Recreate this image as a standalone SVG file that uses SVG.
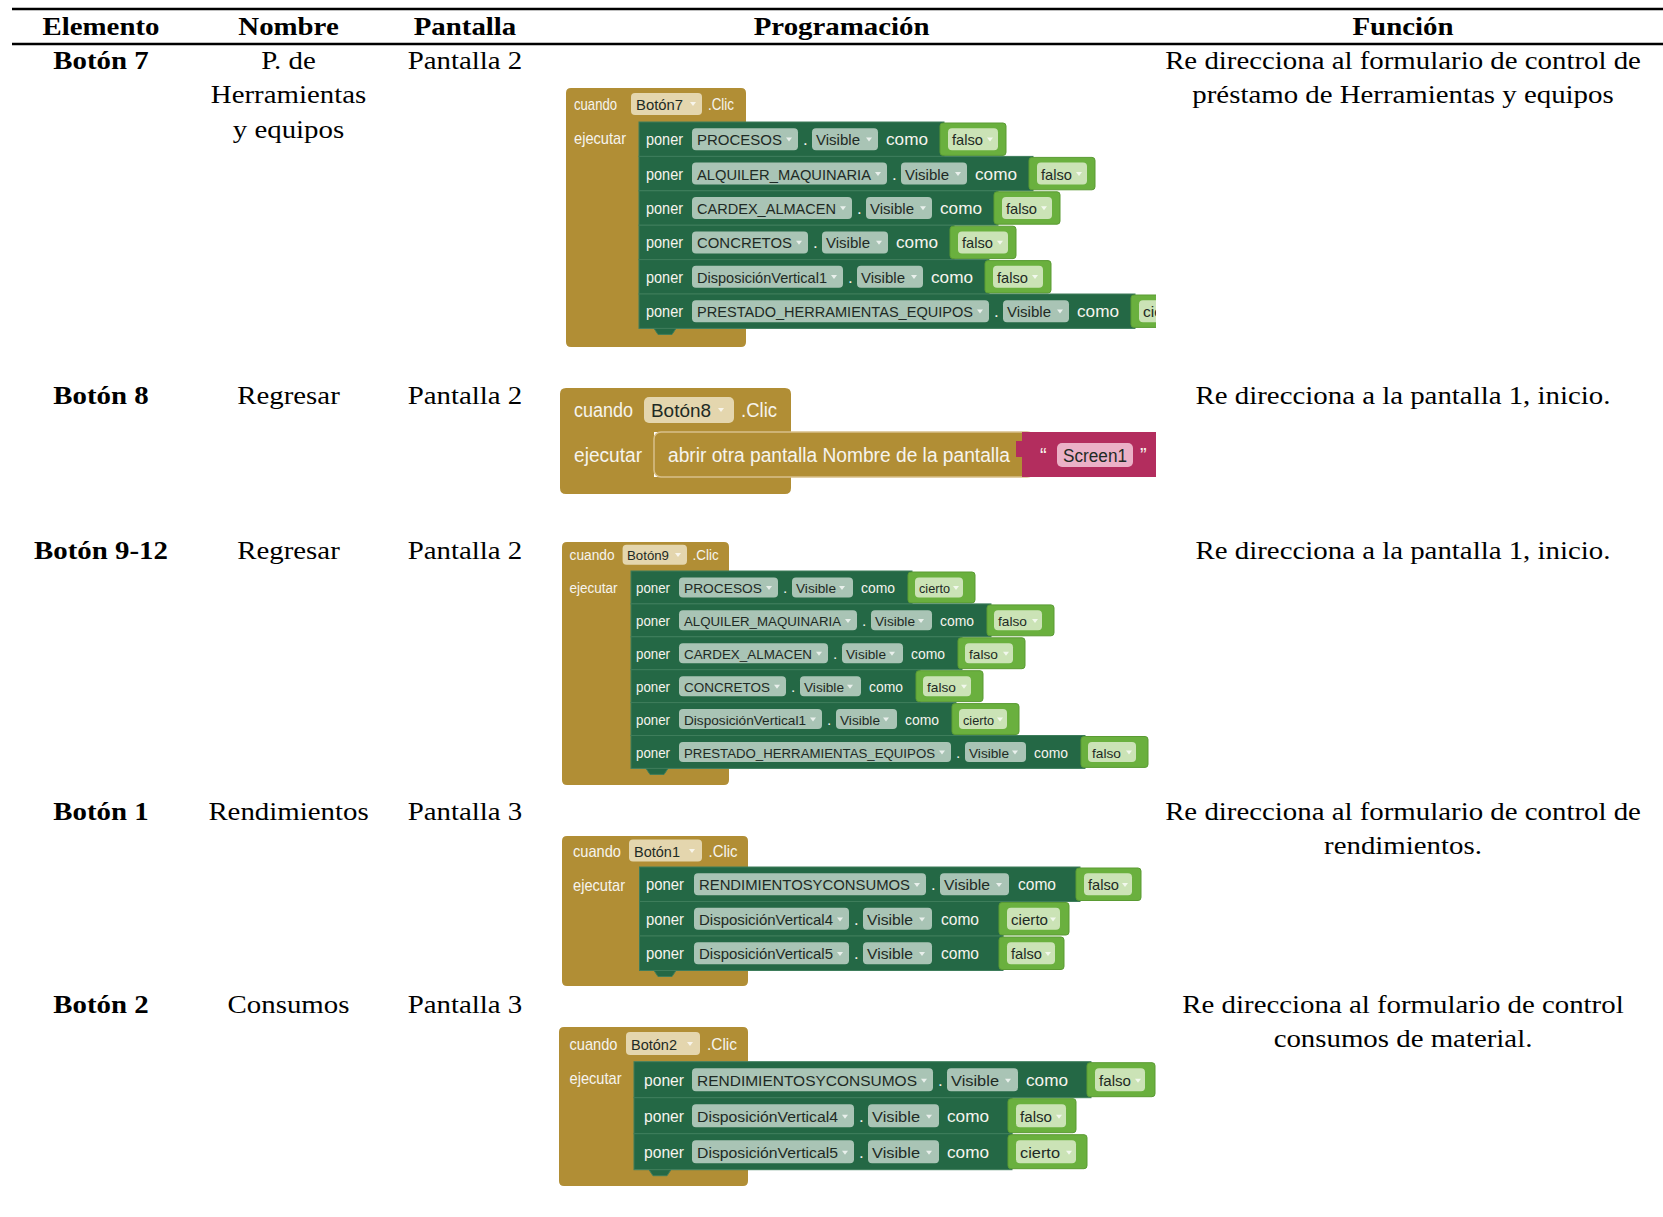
<svg xmlns="http://www.w3.org/2000/svg" width="1663" height="1217" viewBox="0 0 1663 1217">
<style>
  .tb{font-family:"Liberation Serif","Times New Roman",serif;font-size:26px;font-weight:bold;text-anchor:middle;fill:#000}
  .tr{font-family:"Liberation Serif","Times New Roman",serif;font-size:26px;text-anchor:middle;fill:#000}
  .rule{stroke:#000;stroke-width:2.5}
  .br{fill:#B18E35}
  .bf{fill:#E4D6AE}
  .st{fill:#246845;stroke:#3E7D5B;stroke-width:1}
  .sf{fill:#A9C4B5}
  .lg{fill:#6AB03E;stroke:#5A9B33;stroke-width:1}
  .lf{fill:#CBE3B6}
  .pk{fill:#B32D5E}
  .pf{fill:#EBB1C7}
  .stm{fill:#B18E35;stroke:#D8C08A;stroke-width:1.5}
  .bk text{font-family:"Liberation Sans",Arial,sans-serif}
  .w{fill:#F6F4EE}
  .d{fill:#1E2A24}
  .ar{fill:#FFFFFF;fill-opacity:0.75}
  .k1 text{font-size:17px}
  .k1 text.d{font-size:14.4px}
  .k2 text{font-size:20px}
  .k2 text.d{font-size:18px}
  .k3 text{font-size:15.5px}
  .k3 text.d{font-size:13.2px}
  .k4 text{font-size:16.5px}
  .k4 text.d{font-size:14.8px}
  .k5 text{font-size:17px}
  .k5 text.d{font-size:15.4px}
</style>
<defs>
  <clipPath id="cut"><rect x="0" y="0" width="1156" height="1217"/></clipPath>
  <!-- dropdown arrow of a block field -->
  <path id="dd" d="M0,0 h6 l-3,4 z"/>
</defs>

<!-- table rules -->
<g id="rules">
  <line class="rule" x1="12" y1="9" x2="1663" y2="9"/>
  <line class="rule" x1="12" y1="44" x2="1663" y2="44"/>
</g>

<!-- header -->
<g id="header">
  <text class="tb" transform="translate(101,35) scale(1.11,1)">Elemento</text>
  <text class="tb" transform="translate(288.5,35) scale(1.11,1)">Nombre</text>
  <text class="tb" transform="translate(465,35) scale(1.11,1)">Pantalla</text>
  <text class="tb" transform="translate(841.6,35) scale(1.11,1)">Programación</text>
  <text class="tb" transform="translate(1403,35) scale(1.11,1)">Función</text>
</g>

<!-- row: Botón 7 -->
<g id="row-boton7">
  <text class="tb" transform="translate(101,69) scale(1.11,1)">Botón 7</text>
  <text class="tr" transform="translate(288.5,69) scale(1.11,1)">P. de</text>
  <text class="tr" transform="translate(288.5,103) scale(1.11,1)">Herramientas</text>
  <text class="tr" transform="translate(288.5,138) scale(1.11,1)">y equipos</text>
  <text class="tr" transform="translate(465,69) scale(1.11,1)">Pantalla 2</text>
  <text class="tr" transform="translate(1403,69) scale(1.11,1)">Re direcciona al formulario de control de</text>
  <text class="tr" transform="translate(1403,103) scale(1.11,1)">préstamo de Herramientas y equipos</text>
</g>

<!-- blocks: Botón7.Clic -->
<g id="block-boton7" class="bk k1" clip-path="url(#cut)">
  <path class="br" d="M571,88 H741 Q746,88 746,93 V122 H639 V328.4 H746 V342 Q746,347 741,347 H571 Q566,347 566,342 V93 Q566,88 571,88 Z"/>
  <text class="w" x="574" y="110" textLength="43" lengthAdjust="spacingAndGlyphs">cuando</text>
  <rect class="bf" x="631" y="93" width="71" height="22" rx="4"/>
  <text class="d" x="636" y="110" textLength="47" lengthAdjust="spacingAndGlyphs">Botón7</text>
  <use class="ar" href="#dd" x="690" y="102"/>
  <text class="w" x="708" y="110" textLength="26" lengthAdjust="spacingAndGlyphs">.Clic</text>
  <text class="w" x="574" y="144" textLength="52" lengthAdjust="spacingAndGlyphs">ejecutar</text>

  <g transform="translate(0,122)">
    <rect class="st" x="639" y="0" width="305" height="34.4"/>
    <text class="w" x="646" y="23.2" textLength="37" lengthAdjust="spacingAndGlyphs">poner</text>
    <rect class="sf" x="692" y="6.2" width="106" height="22" rx="4"/>
    <text class="d" x="697" y="23.2" textLength="85" lengthAdjust="spacingAndGlyphs">PROCESOS</text>
    <use class="ar" href="#dd" x="786" y="15.5"/>
    <text class="w" x="803" y="23.2">.</text>
    <rect class="sf" x="812" y="6.2" width="66" height="22" rx="4"/>
    <text class="d" x="816" y="23.2" textLength="44" lengthAdjust="spacingAndGlyphs">Visible</text>
    <use class="ar" href="#dd" x="866" y="15.5"/>
    <text class="w" x="886" y="23.2" textLength="42" lengthAdjust="spacingAndGlyphs">como</text>
    <rect class="lg" x="940" y="1" width="66" height="32.4" rx="3"/>
    <rect class="lf" x="948" y="6.2" width="50" height="22" rx="4"/>
    <text class="d" x="952" y="23.2" textLength="31" lengthAdjust="spacingAndGlyphs">falso</text>
    <use class="ar" href="#dd" x="987" y="15.5"/>
  </g>
  <g transform="translate(0,156.4)">
    <rect class="st" x="639" y="0" width="394" height="34.4"/>
    <text class="w" x="646" y="23.2" textLength="37" lengthAdjust="spacingAndGlyphs">poner</text>
    <rect class="sf" x="692" y="6.2" width="195" height="22" rx="4"/>
    <text class="d" x="697" y="23.2" textLength="174" lengthAdjust="spacingAndGlyphs">ALQUILER_MAQUINARIA</text>
    <use class="ar" href="#dd" x="875" y="15.5"/>
    <text class="w" x="892" y="23.2">.</text>
    <rect class="sf" x="901" y="6.2" width="66" height="22" rx="4"/>
    <text class="d" x="905" y="23.2" textLength="44" lengthAdjust="spacingAndGlyphs">Visible</text>
    <use class="ar" href="#dd" x="955" y="15.5"/>
    <text class="w" x="975" y="23.2" textLength="42" lengthAdjust="spacingAndGlyphs">como</text>
    <rect class="lg" x="1029" y="1" width="66" height="32.4" rx="3"/>
    <rect class="lf" x="1037" y="6.2" width="50" height="22" rx="4"/>
    <text class="d" x="1041" y="23.2" textLength="31" lengthAdjust="spacingAndGlyphs">falso</text>
    <use class="ar" href="#dd" x="1076" y="15.5"/>
  </g>
  <g transform="translate(0,190.8)">
    <rect class="st" x="639" y="0" width="359" height="34.4"/>
    <text class="w" x="646" y="23.2" textLength="37" lengthAdjust="spacingAndGlyphs">poner</text>
    <rect class="sf" x="692" y="6.2" width="160" height="22" rx="4"/>
    <text class="d" x="697" y="23.2" textLength="139" lengthAdjust="spacingAndGlyphs">CARDEX_ALMACEN</text>
    <use class="ar" href="#dd" x="840" y="15.5"/>
    <text class="w" x="857" y="23.2">.</text>
    <rect class="sf" x="866" y="6.2" width="66" height="22" rx="4"/>
    <text class="d" x="870" y="23.2" textLength="44" lengthAdjust="spacingAndGlyphs">Visible</text>
    <use class="ar" href="#dd" x="920" y="15.5"/>
    <text class="w" x="940" y="23.2" textLength="42" lengthAdjust="spacingAndGlyphs">como</text>
    <rect class="lg" x="994" y="1" width="66" height="32.4" rx="3"/>
    <rect class="lf" x="1002" y="6.2" width="50" height="22" rx="4"/>
    <text class="d" x="1006" y="23.2" textLength="31" lengthAdjust="spacingAndGlyphs">falso</text>
    <use class="ar" href="#dd" x="1041" y="15.5"/>
  </g>
  <g transform="translate(0,225.2)">
    <rect class="st" x="639" y="0" width="315" height="34.4"/>
    <text class="w" x="646" y="23.2" textLength="37" lengthAdjust="spacingAndGlyphs">poner</text>
    <rect class="sf" x="692" y="6.2" width="116" height="22" rx="4"/>
    <text class="d" x="697" y="23.2" textLength="95" lengthAdjust="spacingAndGlyphs">CONCRETOS</text>
    <use class="ar" href="#dd" x="796" y="15.5"/>
    <text class="w" x="813" y="23.2">.</text>
    <rect class="sf" x="822" y="6.2" width="66" height="22" rx="4"/>
    <text class="d" x="826" y="23.2" textLength="44" lengthAdjust="spacingAndGlyphs">Visible</text>
    <use class="ar" href="#dd" x="876" y="15.5"/>
    <text class="w" x="896" y="23.2" textLength="42" lengthAdjust="spacingAndGlyphs">como</text>
    <rect class="lg" x="950" y="1" width="66" height="32.4" rx="3"/>
    <rect class="lf" x="958" y="6.2" width="50" height="22" rx="4"/>
    <text class="d" x="962" y="23.2" textLength="31" lengthAdjust="spacingAndGlyphs">falso</text>
    <use class="ar" href="#dd" x="997" y="15.5"/>
  </g>
  <g transform="translate(0,259.6)">
    <rect class="st" x="639" y="0" width="350" height="34.4"/>
    <text class="w" x="646" y="23.2" textLength="37" lengthAdjust="spacingAndGlyphs">poner</text>
    <rect class="sf" x="692" y="6.2" width="151" height="22" rx="4"/>
    <text class="d" x="697" y="23.2" textLength="130" lengthAdjust="spacingAndGlyphs">DisposiciónVertical1</text>
    <use class="ar" href="#dd" x="831" y="15.5"/>
    <text class="w" x="848" y="23.2">.</text>
    <rect class="sf" x="857" y="6.2" width="66" height="22" rx="4"/>
    <text class="d" x="861" y="23.2" textLength="44" lengthAdjust="spacingAndGlyphs">Visible</text>
    <use class="ar" href="#dd" x="911" y="15.5"/>
    <text class="w" x="931" y="23.2" textLength="42" lengthAdjust="spacingAndGlyphs">como</text>
    <rect class="lg" x="985" y="1" width="66" height="32.4" rx="3"/>
    <rect class="lf" x="993" y="6.2" width="50" height="22" rx="4"/>
    <text class="d" x="997" y="23.2" textLength="31" lengthAdjust="spacingAndGlyphs">falso</text>
    <use class="ar" href="#dd" x="1032" y="15.5"/>
  </g>
  <g transform="translate(0,294)">
    <rect class="st" x="639" y="0" width="496" height="34.4"/>
    <path class="st" d="M654,34.4 l4,6 h14 l4,-6 Z" stroke="none"/>
    <text class="w" x="646" y="23.2" textLength="37" lengthAdjust="spacingAndGlyphs">poner</text>
    <rect class="sf" x="692" y="6.2" width="297" height="22" rx="4"/>
    <text class="d" x="697" y="23.2" textLength="276" lengthAdjust="spacingAndGlyphs">PRESTADO_HERRAMIENTAS_EQUIPOS</text>
    <use class="ar" href="#dd" x="977" y="15.5"/>
    <text class="w" x="994" y="23.2">.</text>
    <rect class="sf" x="1003" y="6.2" width="66" height="22" rx="4"/>
    <text class="d" x="1007" y="23.2" textLength="44" lengthAdjust="spacingAndGlyphs">Visible</text>
    <use class="ar" href="#dd" x="1057" y="15.5"/>
    <text class="w" x="1077" y="23.2" textLength="42" lengthAdjust="spacingAndGlyphs">como</text>
    <rect class="lg" x="1131" y="1" width="72" height="32.4" rx="3"/>
    <rect class="lf" x="1139" y="6.2" width="56" height="22" rx="4"/>
    <text class="d" x="1143" y="23.2" textLength="38" lengthAdjust="spacingAndGlyphs">cierto</text>
  </g>
</g>

<!-- row: Botón 8 -->
<g id="row-boton8">
  <text class="tb" transform="translate(101,404) scale(1.11,1)">Botón 8</text>
  <text class="tr" transform="translate(288.5,404) scale(1.11,1)">Regresar</text>
  <text class="tr" transform="translate(465,404) scale(1.11,1)">Pantalla 2</text>
  <text class="tr" transform="translate(1403,404) scale(1.11,1)">Re direcciona a la pantalla 1, inicio.</text>
</g>

<!-- blocks: Botón8.Clic -->
<g id="block-boton8" class="bk k2" clip-path="url(#cut)">
  <path class="br" d="M566,388 H785 Q791,388 791,394 V432 H654 V477 H791 V488 Q791,494 785,494 H566 Q560,494 560,488 V394 Q560,388 566,388 Z"/>
  <text class="w" x="574" y="417" textLength="59" lengthAdjust="spacingAndGlyphs">cuando</text>
  <rect class="bf" x="644" y="397" width="90" height="26" rx="5"/>
  <text class="d" x="651" y="417" textLength="60" lengthAdjust="spacingAndGlyphs">Botón8</text>
  <use class="ar" href="#dd" x="718" y="408"/>
  <text class="w" x="741" y="417" textLength="36" lengthAdjust="spacingAndGlyphs">.Clic</text>
  <text class="w" x="574" y="462" textLength="68" lengthAdjust="spacingAndGlyphs">ejecutar</text>
  <rect class="stm" x="654" y="432" width="380" height="45" rx="7"/>
  <text class="w" x="668" y="462" textLength="342" lengthAdjust="spacingAndGlyphs">abrir otra pantalla  Nombre de la pantalla</text>
  <rect class="pk" x="1022" y="432" width="150" height="45"/>
  <rect class="pk" x="1016" y="441" width="10" height="16"/>
  <text class="w" x="1040" y="462">“</text>
  <rect class="pf" x="1057" y="443" width="76" height="24" rx="5"/>
  <text class="d" x="1063" y="462" textLength="64" lengthAdjust="spacingAndGlyphs">Screen1</text>
  <text class="w" x="1140" y="462">”</text>
</g>

<!-- row: Botón 9-12 -->
<g id="row-boton9-12">
  <text class="tb" transform="translate(101,559) scale(1.11,1)">Botón 9-12</text>
  <text class="tr" transform="translate(288.5,559) scale(1.11,1)">Regresar</text>
  <text class="tr" transform="translate(465,559) scale(1.11,1)">Pantalla 2</text>
  <text class="tr" transform="translate(1403,559) scale(1.11,1)">Re direcciona a la pantalla 1, inicio.</text>
</g>

<!-- blocks: Botón9.Clic -->
<g id="block-boton9" class="bk k3">
  <path class="br" d="M567,542 H724 Q729,542 729,547 V571 H631 V768.4 H729 V780 Q729,785 724,785 H567 Q562,785 562,780 V547 Q562,542 567,542 Z"/>
  <text class="w" x="569.6" y="560.2" textLength="45" lengthAdjust="spacingAndGlyphs">cuando</text>
  <rect class="bf" x="622.6" y="544.7" width="64.4" height="20" rx="4"/>
  <text class="d" x="627" y="560.2" textLength="42" lengthAdjust="spacingAndGlyphs">Botón9</text>
  <use class="ar" href="#dd" x="675" y="553"/>
  <text class="w" x="692.6" y="560.2" textLength="26" lengthAdjust="spacingAndGlyphs">.Clic</text>
  <text class="w" x="569.6" y="593" textLength="48" lengthAdjust="spacingAndGlyphs">ejecutar</text>

  <g transform="translate(0,571)">
    <rect class="st" x="631" y="0" width="281" height="32.9"/>
    <text class="w" x="636" y="22" textLength="34" lengthAdjust="spacingAndGlyphs">poner</text>
    <rect class="sf" x="679" y="6.45" width="99" height="20" rx="4"/>
    <text class="d" x="684" y="22" textLength="78" lengthAdjust="spacingAndGlyphs">PROCESOS</text>
    <use class="ar" href="#dd" x="766" y="15"/>
    <text class="w" x="783" y="22">.</text>
    <rect class="sf" x="792" y="6.45" width="61" height="20" rx="4"/>
    <text class="d" x="796" y="22" textLength="40" lengthAdjust="spacingAndGlyphs">Visible</text>
    <use class="ar" href="#dd" x="839" y="15"/>
    <text class="w" x="861" y="22" textLength="34" lengthAdjust="spacingAndGlyphs">como</text>
    <rect class="lg" x="908" y="1" width="67" height="30.9" rx="3"/>
    <rect class="lf" x="915" y="6.45" width="48" height="20" rx="4"/>
    <text class="d" x="919" y="22" textLength="31" lengthAdjust="spacingAndGlyphs">cierto</text>
    <use class="ar" href="#dd" x="953" y="15"/>
  </g>
  <g transform="translate(0,603.9)">
    <rect class="st" x="631" y="0" width="360" height="32.9"/>
    <text class="w" x="636" y="22" textLength="34" lengthAdjust="spacingAndGlyphs">poner</text>
    <rect class="sf" x="679" y="6.45" width="178" height="20" rx="4"/>
    <text class="d" x="684" y="22" textLength="157" lengthAdjust="spacingAndGlyphs">ALQUILER_MAQUINARIA</text>
    <use class="ar" href="#dd" x="845" y="15"/>
    <text class="w" x="862" y="22">.</text>
    <rect class="sf" x="871" y="6.45" width="61" height="20" rx="4"/>
    <text class="d" x="875" y="22" textLength="40" lengthAdjust="spacingAndGlyphs">Visible</text>
    <use class="ar" href="#dd" x="918" y="15"/>
    <text class="w" x="940" y="22" textLength="34" lengthAdjust="spacingAndGlyphs">como</text>
    <rect class="lg" x="987" y="1" width="67" height="30.9" rx="3"/>
    <rect class="lf" x="994" y="6.45" width="48" height="20" rx="4"/>
    <text class="d" x="998" y="22" textLength="29" lengthAdjust="spacingAndGlyphs">falso</text>
    <use class="ar" href="#dd" x="1032" y="15"/>
  </g>
  <g transform="translate(0,636.8)">
    <rect class="st" x="631" y="0" width="331" height="32.9"/>
    <text class="w" x="636" y="22" textLength="34" lengthAdjust="spacingAndGlyphs">poner</text>
    <rect class="sf" x="679" y="6.45" width="149" height="20" rx="4"/>
    <text class="d" x="684" y="22" textLength="128" lengthAdjust="spacingAndGlyphs">CARDEX_ALMACEN</text>
    <use class="ar" href="#dd" x="816" y="15"/>
    <text class="w" x="833" y="22">.</text>
    <rect class="sf" x="842" y="6.45" width="61" height="20" rx="4"/>
    <text class="d" x="846" y="22" textLength="40" lengthAdjust="spacingAndGlyphs">Visible</text>
    <use class="ar" href="#dd" x="889" y="15"/>
    <text class="w" x="911" y="22" textLength="34" lengthAdjust="spacingAndGlyphs">como</text>
    <rect class="lg" x="958" y="1" width="67" height="30.9" rx="3"/>
    <rect class="lf" x="965" y="6.45" width="48" height="20" rx="4"/>
    <text class="d" x="969" y="22" textLength="29" lengthAdjust="spacingAndGlyphs">falso</text>
    <use class="ar" href="#dd" x="1003" y="15"/>
  </g>
  <g transform="translate(0,669.7)">
    <rect class="st" x="631" y="0" width="289" height="32.9"/>
    <text class="w" x="636" y="22" textLength="34" lengthAdjust="spacingAndGlyphs">poner</text>
    <rect class="sf" x="679" y="6.45" width="107" height="20" rx="4"/>
    <text class="d" x="684" y="22" textLength="86" lengthAdjust="spacingAndGlyphs">CONCRETOS</text>
    <use class="ar" href="#dd" x="774" y="15"/>
    <text class="w" x="791" y="22">.</text>
    <rect class="sf" x="800" y="6.45" width="61" height="20" rx="4"/>
    <text class="d" x="804" y="22" textLength="40" lengthAdjust="spacingAndGlyphs">Visible</text>
    <use class="ar" href="#dd" x="847" y="15"/>
    <text class="w" x="869" y="22" textLength="34" lengthAdjust="spacingAndGlyphs">como</text>
    <rect class="lg" x="916" y="1" width="67" height="30.9" rx="3"/>
    <rect class="lf" x="923" y="6.45" width="48" height="20" rx="4"/>
    <text class="d" x="927" y="22" textLength="29" lengthAdjust="spacingAndGlyphs">falso</text>
    <use class="ar" href="#dd" x="961" y="15"/>
  </g>
  <g transform="translate(0,702.6)">
    <rect class="st" x="631" y="0" width="325" height="32.9"/>
    <text class="w" x="636" y="22" textLength="34" lengthAdjust="spacingAndGlyphs">poner</text>
    <rect class="sf" x="679" y="6.45" width="143" height="20" rx="4"/>
    <text class="d" x="684" y="22" textLength="122" lengthAdjust="spacingAndGlyphs">DisposiciónVertical1</text>
    <use class="ar" href="#dd" x="810" y="15"/>
    <text class="w" x="827" y="22">.</text>
    <rect class="sf" x="836" y="6.45" width="61" height="20" rx="4"/>
    <text class="d" x="840" y="22" textLength="40" lengthAdjust="spacingAndGlyphs">Visible</text>
    <use class="ar" href="#dd" x="883" y="15"/>
    <text class="w" x="905" y="22" textLength="34" lengthAdjust="spacingAndGlyphs">como</text>
    <rect class="lg" x="952" y="1" width="67" height="30.9" rx="3"/>
    <rect class="lf" x="959" y="6.45" width="48" height="20" rx="4"/>
    <text class="d" x="963" y="22" textLength="31" lengthAdjust="spacingAndGlyphs">cierto</text>
    <use class="ar" href="#dd" x="997" y="15"/>
  </g>
  <g transform="translate(0,735.5)">
    <rect class="st" x="631" y="0" width="454" height="32.9"/>
    <path class="st" d="M646,32.9 l4,6 h14 l4,-6 Z" stroke="none"/>
    <text class="w" x="636" y="22" textLength="34" lengthAdjust="spacingAndGlyphs">poner</text>
    <rect class="sf" x="679" y="6.45" width="272" height="20" rx="4"/>
    <text class="d" x="684" y="22" textLength="251" lengthAdjust="spacingAndGlyphs">PRESTADO_HERRAMIENTAS_EQUIPOS</text>
    <use class="ar" href="#dd" x="939" y="15"/>
    <text class="w" x="956" y="22">.</text>
    <rect class="sf" x="965" y="6.45" width="61" height="20" rx="4"/>
    <text class="d" x="969" y="22" textLength="40" lengthAdjust="spacingAndGlyphs">Visible</text>
    <use class="ar" href="#dd" x="1012" y="15"/>
    <text class="w" x="1034" y="22" textLength="34" lengthAdjust="spacingAndGlyphs">como</text>
    <rect class="lg" x="1081" y="1" width="67" height="30.9" rx="3"/>
    <rect class="lf" x="1088" y="6.45" width="48" height="20" rx="4"/>
    <text class="d" x="1092" y="22" textLength="29" lengthAdjust="spacingAndGlyphs">falso</text>
    <use class="ar" href="#dd" x="1126" y="15"/>
  </g>
</g>

<!-- row: Botón 1 -->
<g id="row-boton1">
  <text class="tb" transform="translate(101,820) scale(1.11,1)">Botón 1</text>
  <text class="tr" transform="translate(288.5,820) scale(1.11,1)">Rendimientos</text>
  <text class="tr" transform="translate(465,820) scale(1.11,1)">Pantalla 3</text>
  <text class="tr" transform="translate(1403,820) scale(1.11,1)">Re direcciona al formulario de control de</text>
  <text class="tr" transform="translate(1403,854) scale(1.11,1)">rendimientos.</text>
</g>

<!-- blocks: Botón1.Clic -->
<g id="block-boton1" class="bk k4">
  <path class="br" d="M567,836 H743 Q748,836 748,841 V867 H639.5 V970.5 H748 V981 Q748,986 743,986 H567 Q562,986 562,981 V841 Q562,836 567,836 Z"/>
  <text class="w" x="573" y="856.6" textLength="48" lengthAdjust="spacingAndGlyphs">cuando</text>
  <rect class="bf" x="629" y="839.6" width="73" height="22" rx="4"/>
  <text class="d" x="634" y="856.6" textLength="46" lengthAdjust="spacingAndGlyphs">Botón1</text>
  <use class="ar" href="#dd" x="689" y="849"/>
  <text class="w" x="708.5" y="856.6" textLength="29" lengthAdjust="spacingAndGlyphs">.Clic</text>
  <text class="w" x="573" y="890.5" textLength="52" lengthAdjust="spacingAndGlyphs">ejecutar</text>

  <g transform="translate(0,867)">
    <rect class="st" x="639.5" y="0" width="440.5" height="34.5"/>
    <text class="w" x="646" y="23.2" textLength="38" lengthAdjust="spacingAndGlyphs">poner</text>
    <rect class="sf" x="694" y="6.25" width="232" height="22" rx="4"/>
    <text class="d" x="699" y="23.2" textLength="211" lengthAdjust="spacingAndGlyphs">RENDIMIENTOSYCONSUMOS</text>
    <use class="ar" href="#dd" x="914" y="16"/>
    <text class="w" x="931" y="23.2">.</text>
    <rect class="sf" x="940" y="6.25" width="69" height="22" rx="4"/>
    <text class="d" x="944" y="23.2" textLength="46" lengthAdjust="spacingAndGlyphs">Visible</text>
    <use class="ar" href="#dd" x="996" y="16"/>
    <text class="w" x="1018" y="23.2" textLength="38" lengthAdjust="spacingAndGlyphs">como</text>
    <rect class="lg" x="1076" y="1" width="65" height="32.5" rx="3"/>
    <rect class="lf" x="1084" y="6.25" width="48" height="22" rx="4"/>
    <text class="d" x="1088" y="23.2" textLength="31" lengthAdjust="spacingAndGlyphs">falso</text>
    <use class="ar" href="#dd" x="1122" y="16"/>
  </g>
  <g transform="translate(0,901.5)">
    <rect class="st" x="639.5" y="0" width="363.5" height="34.5"/>
    <text class="w" x="646" y="23.2" textLength="38" lengthAdjust="spacingAndGlyphs">poner</text>
    <rect class="sf" x="694" y="6.25" width="155" height="22" rx="4"/>
    <text class="d" x="699" y="23.2" textLength="134" lengthAdjust="spacingAndGlyphs">DisposiciónVertical4</text>
    <use class="ar" href="#dd" x="837" y="16"/>
    <text class="w" x="854" y="23.2">.</text>
    <rect class="sf" x="863" y="6.25" width="69" height="22" rx="4"/>
    <text class="d" x="867" y="23.2" textLength="46" lengthAdjust="spacingAndGlyphs">Visible</text>
    <use class="ar" href="#dd" x="919" y="16"/>
    <text class="w" x="941" y="23.2" textLength="38" lengthAdjust="spacingAndGlyphs">como</text>
    <rect class="lg" x="999" y="1" width="70" height="32.5" rx="3"/>
    <rect class="lf" x="1007" y="6.25" width="53" height="22" rx="4"/>
    <text class="d" x="1011" y="23.2" textLength="37" lengthAdjust="spacingAndGlyphs">cierto</text>
    <use class="ar" href="#dd" x="1050" y="16"/>
  </g>
  <g transform="translate(0,936)">
    <rect class="st" x="639.5" y="0" width="363.5" height="34.5"/>
    <path class="st" d="M654,34.5 l4,6 h14 l4,-6 Z" stroke="none"/>
    <text class="w" x="646" y="23.2" textLength="38" lengthAdjust="spacingAndGlyphs">poner</text>
    <rect class="sf" x="694" y="6.25" width="155" height="22" rx="4"/>
    <text class="d" x="699" y="23.2" textLength="134" lengthAdjust="spacingAndGlyphs">DisposiciónVertical5</text>
    <use class="ar" href="#dd" x="837" y="16"/>
    <text class="w" x="854" y="23.2">.</text>
    <rect class="sf" x="863" y="6.25" width="69" height="22" rx="4"/>
    <text class="d" x="867" y="23.2" textLength="46" lengthAdjust="spacingAndGlyphs">Visible</text>
    <use class="ar" href="#dd" x="919" y="16"/>
    <text class="w" x="941" y="23.2" textLength="38" lengthAdjust="spacingAndGlyphs">como</text>
    <rect class="lg" x="999" y="1" width="65" height="32.5" rx="3"/>
    <rect class="lf" x="1007" y="6.25" width="48" height="22" rx="4"/>
    <text class="d" x="1011" y="23.2" textLength="31" lengthAdjust="spacingAndGlyphs">falso</text>
    <use class="ar" href="#dd" x="1045" y="16"/>
  </g>
</g>

<!-- row: Botón 2 -->
<g id="row-boton2">
  <text class="tb" transform="translate(101,1013) scale(1.11,1)">Botón 2</text>
  <text class="tr" transform="translate(288.5,1013) scale(1.11,1)">Consumos</text>
  <text class="tr" transform="translate(465,1013) scale(1.11,1)">Pantalla 3</text>
  <text class="tr" transform="translate(1403,1013) scale(1.11,1)">Re direcciona al formulario de control</text>
  <text class="tr" transform="translate(1403,1047) scale(1.11,1)">consumos de material.</text>
</g>

<!-- blocks: Botón2.Clic -->
<g id="block-boton2" class="bk k5" clip-path="url(#cut)">
  <path class="br" d="M564,1027 H743 Q748,1027 748,1032 V1061.7 H634 V1169.7 H748 V1181 Q748,1186 743,1186 H564 Q559,1186 559,1181 V1032 Q559,1027 564,1027 Z"/>
  <text class="w" x="569.5" y="1049.6" textLength="48" lengthAdjust="spacingAndGlyphs">cuando</text>
  <rect class="bf" x="626" y="1032.1" width="74" height="23" rx="4"/>
  <text class="d" x="631" y="1049.6" textLength="46" lengthAdjust="spacingAndGlyphs">Botón2</text>
  <use class="ar" href="#dd" x="687" y="1042"/>
  <text class="w" x="707" y="1049.6" textLength="30" lengthAdjust="spacingAndGlyphs">.Clic</text>
  <text class="w" x="569.5" y="1083.6" textLength="52" lengthAdjust="spacingAndGlyphs">ejecutar</text>

  <g transform="translate(0,1061.7)">
    <rect class="st" x="634" y="0" width="457" height="36"/>
    <text class="w" x="644" y="24" textLength="40" lengthAdjust="spacingAndGlyphs">poner</text>
    <rect class="sf" x="692" y="6.5" width="241" height="23" rx="4"/>
    <text class="d" x="697" y="24" textLength="220" lengthAdjust="spacingAndGlyphs">RENDIMIENTOSYCONSUMOS</text>
    <use class="ar" href="#dd" x="921" y="17"/>
    <text class="w" x="938" y="24">.</text>
    <rect class="sf" x="947" y="6.5" width="71" height="23" rx="4"/>
    <text class="d" x="951" y="24" textLength="48" lengthAdjust="spacingAndGlyphs">Visible</text>
    <use class="ar" href="#dd" x="1005" y="17"/>
    <text class="w" x="1026" y="24" textLength="42" lengthAdjust="spacingAndGlyphs">como</text>
    <rect class="lg" x="1087" y="1" width="68" height="34" rx="3"/>
    <rect class="lf" x="1095" y="6.5" width="50" height="23" rx="4"/>
    <text class="d" x="1099" y="24" textLength="32" lengthAdjust="spacingAndGlyphs">falso</text>
    <use class="ar" href="#dd" x="1135" y="17"/>
  </g>
  <g transform="translate(0,1097.7)">
    <rect class="st" x="634" y="0" width="378" height="36"/>
    <text class="w" x="644" y="24" textLength="40" lengthAdjust="spacingAndGlyphs">poner</text>
    <rect class="sf" x="692" y="6.5" width="162" height="23" rx="4"/>
    <text class="d" x="697" y="24" textLength="141" lengthAdjust="spacingAndGlyphs">DisposiciónVertical4</text>
    <use class="ar" href="#dd" x="842" y="17"/>
    <text class="w" x="859" y="24">.</text>
    <rect class="sf" x="868" y="6.5" width="71" height="23" rx="4"/>
    <text class="d" x="872" y="24" textLength="48" lengthAdjust="spacingAndGlyphs">Visible</text>
    <use class="ar" href="#dd" x="926" y="17"/>
    <text class="w" x="947" y="24" textLength="42" lengthAdjust="spacingAndGlyphs">como</text>
    <rect class="lg" x="1008" y="1" width="68" height="34" rx="3"/>
    <rect class="lf" x="1016" y="6.5" width="50" height="23" rx="4"/>
    <text class="d" x="1020" y="24" textLength="32" lengthAdjust="spacingAndGlyphs">falso</text>
    <use class="ar" href="#dd" x="1056" y="17"/>
  </g>
  <g transform="translate(0,1133.7)">
    <rect class="st" x="634" y="0" width="378" height="36"/>
    <path class="st" d="M649,36 l4,6 h14 l4,-6 Z" stroke="none"/>
    <text class="w" x="644" y="24" textLength="40" lengthAdjust="spacingAndGlyphs">poner</text>
    <rect class="sf" x="692" y="6.5" width="162" height="23" rx="4"/>
    <text class="d" x="697" y="24" textLength="141" lengthAdjust="spacingAndGlyphs">DisposiciónVertical5</text>
    <use class="ar" href="#dd" x="842" y="17"/>
    <text class="w" x="859" y="24">.</text>
    <rect class="sf" x="868" y="6.5" width="71" height="23" rx="4"/>
    <text class="d" x="872" y="24" textLength="48" lengthAdjust="spacingAndGlyphs">Visible</text>
    <use class="ar" href="#dd" x="926" y="17"/>
    <text class="w" x="947" y="24" textLength="42" lengthAdjust="spacingAndGlyphs">como</text>
    <rect class="lg" x="1008" y="1" width="79" height="34" rx="3"/>
    <rect class="lf" x="1016" y="6.5" width="60" height="23" rx="4"/>
    <text class="d" x="1020" y="24" textLength="40" lengthAdjust="spacingAndGlyphs">cierto</text>
    <use class="ar" href="#dd" x="1066" y="17"/>
  </g>
</g>
</svg>
